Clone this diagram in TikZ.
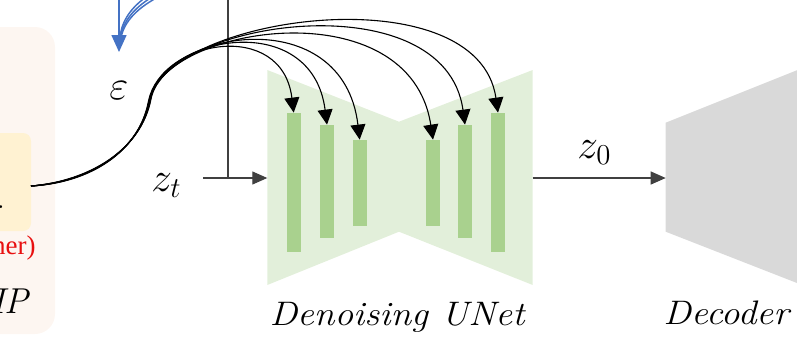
\documentclass[tikz,border=0pt]{standalone}
\usepackage{fontspec}
\newfontfamily\timesfont{Liberation Serif}
\usetikzlibrary{arrows.meta}
\definecolor{panelbg}{HTML}{FDF6F1}
\definecolor{yboxbg}{HTML}{FFF2D2}
\definecolor{unetbg}{HTML}{E2EFDA}
\definecolor{barcol}{HTML}{A9D18E}
\definecolor{decbg}{HTML}{D9D9D9}
\definecolor{bluearr}{HTML}{4472C4}
\definecolor{linegray}{HTML}{404040}
\definecolor{redtxt}{HTML}{E81010}
\begin{document}
\begin{tikzpicture}[x=0.5pt,y=-0.5pt,
  bar/.style={fill=barcol, inner sep=0pt, minimum width=7pt},
  conn/.style={line width=0.55pt, black, -{Triangle[length=7.5pt,width=7.5pt]}},
  flow/.style={line width=0.6pt, linegray, -{Triangle[length=7.5pt,width=6.5pt]}},
  mathlbl/.style={font=\fontsize{20}{24}\selectfont, inner sep=0pt},
  itlbl/.style={font=\fontsize{17}{20}\selectfont\itshape, inner sep=0pt},
  bluecurve/.style={bluearr, line width=0.75pt}]
\useasboundingbox (0,0) rectangle (797,339);

% left panel
\fill[panelbg, rounded corners=10pt] (-40,27) rectangle (55,334);
\fill[yboxbg, rounded corners=4pt] (-30,133) rectangle (31,231);
\node[font=\fontsize{17}{20}\selectfont, anchor=base, inner sep=0pt] (dot) at (1,208) {.};
\node[font=\fontsize{13.5}{16}\timesfont, text=redtxt, anchor=base east, inner sep=0pt] (redlbl) at (36,254) {her)};
\node[font=\fontsize{18}{20}\selectfont\itshape, anchor=base east, inner sep=0pt] (cliplbl) at (29,313) {IP};

% UNet body
\fill[unetbg] (267.3,70) -- (399,121.7) -- (532.7,70) -- (532.7,285) -- (399,231.7) -- (267.3,285) -- cycle;
\node[bar, minimum height=69.5pt] (b1) at (293.7,182.5) {};
\node[bar, minimum height=56.5pt] (b2) at (327,181.5) {};
\node[bar, minimum height=43pt]   (b3) at (359.7,183) {};
\node[bar, minimum height=43pt]   (b4) at (433,183) {};
\node[bar, minimum height=56.5pt] (b5) at (465,181.5) {};
\node[bar, minimum height=69.5pt] (b6) at (498,182.5) {};
\coordinate (unetW) at (267.3,178);
\coordinate (unetE) at (532.7,178);

% decoder
\fill[decbg] (665.7,122.7) -- (820,61) -- (820,292) -- (665.7,231.7) -- cycle;
\coordinate (decW) at (665.7,178);

% labels
\node[mathlbl, anchor=base west] (eps) at (109,99) {$\varepsilon$};
\node[mathlbl, anchor=base west] (zt) at (151,191) {$z_t$};
\node[mathlbl, anchor=base west] (z0) at (577,158.5) {$z_0$};
\node[itlbl, anchor=base] (unetlbl) at (397,325) {\scalebox{1.1}[1]{Denoising UNet}};
\node[itlbl, anchor=base west] (declbl) at (663,324) {\scalebox{1.1}[1]{Decoder}};

% z_t input and vertical line
\coordinate (ztstart) at (203,178);
\coordinate (vtop) at (228,-2);
\draw[line width=0.7pt, linegray] (vtop) -- (vtop |- unetW);
\draw[flow] (ztstart) -- (unetW);
\draw[flow] (unetE) -- (decW);

% blue arrow
\coordinate (btop) at (119,-2);
\coordinate (btip) at (119,52);
\draw[bluearr, line width=0.8pt, -{Triangle[length=8.5pt,width=7.5pt]}] (btop) -- (btip);
\draw[bluecurve] (146,-3) .. controls (128,10) and (121,24) .. (119.5,40);
\draw[bluecurve] (152,-3) .. controls (131,10) and (122,24) .. (120,40);
\draw[bluecurve] (158,-3) .. controls (134,10) and (123,24) .. (120.5,40);

% skip bundle
\coordinate (src) at (31,186);
\draw[conn] (src) .. controls (90,183) and (139,152) .. (148.5,101) .. controls (161,40) and (282,18) .. (b1.north);
\draw[conn] (src) .. controls (90,182) and (140,151) .. (149.5,100) .. controls (163,35) and (312,8) .. (b2.north);
\draw[conn] (src) .. controls (90,181.5) and (141,150) .. (150.5,99.5) .. controls (164,30) and (343,0) .. (b3.north);
\draw[conn] (src) .. controls (90,182.5) and (139.5,151) .. (149,100.5) .. controls (165,25) and (410,-12) .. (b4.north);
\draw[conn] (src) .. controls (90,181) and (141.5,149) .. (151,99) .. controls (166,20) and (445,-20) .. (b5.north);
\draw[conn] (src) .. controls (90,182) and (140.5,150) .. (150,100) .. controls (167,15) and (478,-27) .. (b6.north);
\end{tikzpicture}
\end{document}
